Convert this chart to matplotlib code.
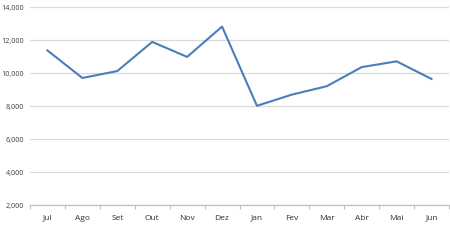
import matplotlib.pyplot as plt
import numpy as np

months = ['Jul', 'Ago', 'Set', 'Out', 'Nov', 'Dez', 'Jan', 'Fev', 'Mar', 'Abr', 'Mai', 'Jun']
values = [11380, 9710, 10130, 11900, 10990, 12830, 8020, 8700, 9210, 10370, 10720, 9650]
yticks = [2000, 4000, 6000, 8000, 10000, 12000, 14000]

plt.rcParams['font.family'] = ['Open Sans', 'DejaVu Sans']

fig = plt.figure(figsize=(4.5, 2.47), dpi=100)
ax = fig.add_axes([30/450, 42/247, 419/450, (205 - 7.3)/247])

x = np.arange(len(months))
ax.plot(x, values, color='#4a7ebb', linewidth=1.5)

ax.set_xlim(-0.5, len(months) - 0.5)
ax.set_ylim(2000, 14000)
ax.set_yticks(yticks)
ax.set_yticklabels([f'{v:,}' for v in yticks], fontsize=5.2, color='#404040')
ax.set_xticks(x)
ax.set_xticklabels(months, fontsize=6, color='#303030')
ax.set_xticks(np.arange(-0.5, len(months)), minor=True)
ax.tick_params(axis='x', which='major', length=0, pad=7)
ax.tick_params(axis='x', which='minor', length=3, color='#bfbfbf', width=0.8)
ax.tick_params(axis='y', length=0, pad=4)

ax.grid(axis='y', color='#d9d9d9', linewidth=0.9)
ax.set_axisbelow(True)
for s in ['top', 'right', 'left']:
    ax.spines[s].set_visible(False)
ax.spines['bottom'].set_color('#bfbfbf')
ax.spines['bottom'].set_linewidth(0.9)

fig.savefig('out.png', dpi=100)
